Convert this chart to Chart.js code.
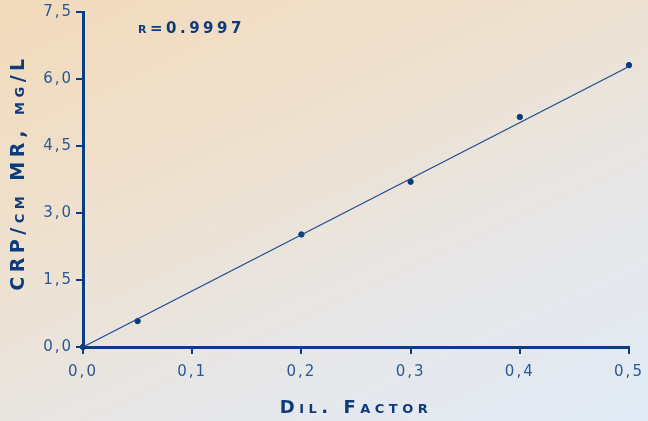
<!DOCTYPE html>
<html>
<head>
<meta charset="utf-8">
<script src="https://cdn.jsdelivr.net/npm/chart.js@4/dist/chart.umd.min.js"></script>
<style>
  html, body { margin: 0; padding: 0; }
  body {
    width: 648px;
    height: 421px;
    overflow: hidden;
    background: linear-gradient(155deg, #f2daba 0%, #eee1d0 38%, #e7e7e8 68%, #e1ebf6 100%);
  }
  #wrap { position: relative; width: 648px; height: 421px; }
</style>
</head>
<body>
<div id="wrap"><canvas id="calib-chart"></canvas></div>
<script>
// valeurs
const dilFactor = [0, 0.05, 0.2, 0.3, 0.4, 0.5];
const crpValues = [0, 0.58, 2.52, 3.70, 5.15, 6.31];

// droite de regression
const fitX = [0, 0.5];
const fitY = [0, 6.28];

const xTickLabels = ["0,0", "0,1", "0,2", "0,3", "0,4", "0,5"];
const yTickLabels = ["0,0", "1,5", "3,0", "4,5", "6,0", "7,5"];
const rLabel = "r=0.9997";

const AXIS = "#0b3d82";
const TICK_TXT = "#2b5895";
const TITLE = "#0d3b7b";
const FAMILY = "'DejaVu Sans', sans-serif";

// letter spacing pour imiter la police large de l'original
const spacingPlugin = {
  id: "spacing",
  beforeUpdate(chart) { chart.ctx.letterSpacing = "2px"; },
  beforeDraw(chart) {
    chart.ctx.letterSpacing = "2px";
    // titres d'axes un peu plus espaces
    Object.values(chart.scales).forEach((s) => {
      if (s._wideTitle) return;
      const orig = s.drawTitle;
      s.drawTitle = function () {
        const ctx = this.ctx;
        ctx.save();
        ctx.letterSpacing = "4.5px";
        if (this.axis === "y") ctx.translate(0, -7); // un peu plus haut
        orig.call(this);
        ctx.restore();
        ctx.letterSpacing = "2px";
      };
      s._wideTitle = true;
    });
  },
};

const rPlugin = {
  id: "rLabel",
  afterDraw(chart) {
    const { ctx, chartArea } = chart;
    ctx.save();
    ctx.letterSpacing = "3.5px";
    ctx.font = "small-caps bold 15px " + FAMILY;
    ctx.fillStyle = TITLE;
    ctx.textBaseline = "middle";
    ctx.textAlign = "left";
    ctx.fillText(rLabel, chartArea.left + 55, chartArea.top + 17);
    ctx.restore();
  },
};

const canvas = document.getElementById("calib-chart");

new Chart(canvas, {
  type: "scatter",
  data: {
    datasets: [
      {
        type: "line",
        label: "fit",
        data: fitX.map((x, i) => ({ x, y: fitY[i] })),
        borderColor: "#1d4e92",
        borderWidth: 1.3,
        pointRadius: 0,
        fill: false,
        clip: false,
      },
      {
        label: "CRP",
        data: dilFactor.map((x, i) => ({ x, y: crpValues[i] })),
        backgroundColor: "#0a3b7c",
        borderColor: "#0a3b7c",
        pointRadius: 2.7,
        showLine: false,
        clip: false,
      },
    ],
  },
  options: {
    responsive: true,
    maintainAspectRatio: false,
    animation: false,
    layout: { padding: { top: 12, right: 19, left: 0, bottom: 0 } },
    plugins: {
      legend: { display: false },
      tooltip: { enabled: false },
    },
    scales: {
      x: {
        type: "linear",
        min: 0,
        max: 0.5,
        afterFit: (s) => {
          s.height = 74;
          s.paddingLeft = 0;
          s.paddingRight = 0;
        },
        afterBuildTicks: (s) => {
          s.ticks = xTickLabels.map((_, i) => ({ value: i * 0.1 }));
        },
        ticks: {
          padding: 9,
          color: TICK_TXT,
          font: { family: FAMILY, size: 15 },
          callback: (v, i) => xTickLabels[i],
          maxRotation: 0,
        },
        grid: {
          drawOnChartArea: false,
          drawTicks: true,
          tickLength: 7,
          color: AXIS,
          lineWidth: 2,
        },
        border: { display: true, color: AXIS, width: 3 },
        title: {
          display: true,
          text: "Dil. Factor",
          color: TITLE,
          font: { family: FAMILY, size: 18, weight: "small-caps bold" },
          padding: { top: 0, bottom: 2 },
        },
      },
      y: {
        type: "linear",
        min: 0,
        max: 7.5,
        afterFit: (s) => { s.width = 83; },
        afterBuildTicks: (s) => {
          s.ticks = yTickLabels.map((_, i) => ({ value: i * 1.5 }));
        },
        ticks: {
          padding: 3,
          color: TICK_TXT,
          font: { family: FAMILY, size: 15 },
          callback: (v, i) => yTickLabels[i],
        },
        grid: {
          drawOnChartArea: false,
          drawTicks: true,
          tickLength: 7,
          color: AXIS,
          lineWidth: 2,
        },
        border: { display: true, color: AXIS, width: 3 },
        title: {
          display: true,
          text: "CRP/cm MR, mg/L",
          color: TITLE,
          font: { family: FAMILY, size: 19, weight: "small-caps bold" },
          padding: { top: 8, bottom: 0 },
        },
      },
    },
  },
  plugins: [spacingPlugin, rPlugin],
});
</script>
</body>
</html>
